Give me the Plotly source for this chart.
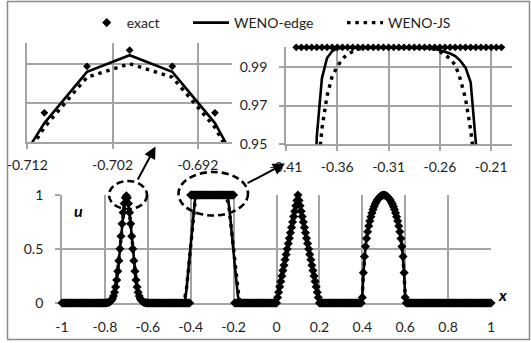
import numpy as np
import plotly.graph_objects as go

# ---------------- data (x grid step 0.005 on [-1, 1]) ----------------
x_vals = [
 -1.0, -0.995, -0.99, -0.985, -0.98, -0.975, -0.97, -0.965, -0.96, -0.955, -0.95, -0.945, -0.94, -0.935, -0.93, -0.925, -0.92, -0.915, -0.91, -0.905,
 -0.9, -0.895, -0.89, -0.885, -0.88, -0.875, -0.87, -0.865, -0.86, -0.855, -0.85, -0.845, -0.84, -0.835, -0.83, -0.825, -0.82, -0.815, -0.81, -0.805,
 -0.8, -0.795, -0.79, -0.785, -0.78, -0.775, -0.77, -0.765, -0.76, -0.755, -0.75, -0.745, -0.74, -0.735, -0.73, -0.725, -0.72, -0.715, -0.71, -0.705,
 -0.7, -0.695, -0.69, -0.685, -0.68, -0.675, -0.67, -0.665, -0.66, -0.655, -0.65, -0.645, -0.64, -0.635, -0.63, -0.625, -0.62, -0.615, -0.61, -0.605,
 -0.6, -0.595, -0.59, -0.585, -0.58, -0.575, -0.57, -0.565, -0.56, -0.555, -0.55, -0.545, -0.54, -0.535, -0.53, -0.525, -0.52, -0.515, -0.51, -0.505,
 -0.5, -0.495, -0.49, -0.485, -0.48, -0.475, -0.47, -0.465, -0.46, -0.455, -0.45, -0.445, -0.44, -0.435, -0.43, -0.425, -0.42, -0.415, -0.41, -0.405,
 -0.4, -0.395, -0.39, -0.385, -0.38, -0.375, -0.37, -0.365, -0.36, -0.355, -0.35, -0.345, -0.34, -0.335, -0.33, -0.325, -0.32, -0.315, -0.31, -0.305,
 -0.3, -0.295, -0.29, -0.285, -0.28, -0.275, -0.27, -0.265, -0.26, -0.255, -0.25, -0.245, -0.24, -0.235, -0.23, -0.225, -0.22, -0.215, -0.21, -0.205,
 -0.2, -0.195, -0.19, -0.185, -0.18, -0.175, -0.17, -0.165, -0.16, -0.155, -0.15, -0.145, -0.14, -0.135, -0.13, -0.125, -0.12, -0.115, -0.11, -0.105,
 -0.1, -0.095, -0.09, -0.085, -0.08, -0.075, -0.07, -0.065, -0.06, -0.055, -0.05, -0.045, -0.04, -0.035, -0.03, -0.025, -0.02, -0.015, -0.01, -0.005,
 0.0, 0.005, 0.01, 0.015, 0.02, 0.025, 0.03, 0.035, 0.04, 0.045, 0.05, 0.055, 0.06, 0.065, 0.07, 0.075, 0.08, 0.085, 0.09, 0.095,
 0.1, 0.105, 0.11, 0.115, 0.12, 0.125, 0.13, 0.135, 0.14, 0.145, 0.15, 0.155, 0.16, 0.165, 0.17, 0.175, 0.18, 0.185, 0.19, 0.195,
 0.2, 0.205, 0.21, 0.215, 0.22, 0.225, 0.23, 0.235, 0.24, 0.245, 0.25, 0.255, 0.26, 0.265, 0.27, 0.275, 0.28, 0.285, 0.29, 0.295,
 0.3, 0.305, 0.31, 0.315, 0.32, 0.325, 0.33, 0.335, 0.34, 0.345, 0.35, 0.355, 0.36, 0.365, 0.37, 0.375, 0.38, 0.385, 0.39, 0.395,
 0.4, 0.405, 0.41, 0.415, 0.42, 0.425, 0.43, 0.435, 0.44, 0.445, 0.45, 0.455, 0.46, 0.465, 0.47, 0.475, 0.48, 0.485, 0.49, 0.495,
 0.5, 0.505, 0.51, 0.515, 0.52, 0.525, 0.53, 0.535, 0.54, 0.545, 0.55, 0.555, 0.56, 0.565, 0.57, 0.575, 0.58, 0.585, 0.59, 0.595,
 0.6, 0.605, 0.61, 0.615, 0.62, 0.625, 0.63, 0.635, 0.64, 0.645, 0.65, 0.655, 0.66, 0.665, 0.67, 0.675, 0.68, 0.685, 0.69, 0.695,
 0.7, 0.705, 0.71, 0.715, 0.72, 0.725, 0.73, 0.735, 0.74, 0.745, 0.75, 0.755, 0.76, 0.765, 0.77, 0.775, 0.78, 0.785, 0.79, 0.795,
 0.8, 0.805, 0.81, 0.815, 0.82, 0.825, 0.83, 0.835, 0.84, 0.845, 0.85, 0.855, 0.86, 0.865, 0.87, 0.875, 0.88, 0.885, 0.89, 0.895,
 0.9, 0.905, 0.91, 0.915, 0.92, 0.925, 0.93, 0.935, 0.94, 0.945, 0.95, 0.955, 0.96, 0.965, 0.97, 0.975, 0.98, 0.985, 0.99, 0.995,
 1.0,
]

u_exact = [
 0,0,0,0,0,0,0,0,0,0,0,0,0,0,0,0,0,0,0,0,
 0,0,0,0,0,0,0,0,0,0,0,0,0,0,0,0,0,0,0,0,
 0.0005, 0.00104, 0.0021, 0.00409, 0.00765, 0.01379, 0.02394, 0.03999, 0.06432, 0.09961, 0.14847, 0.21305, 0.29434, 0.39147, 0.50121, 0.61777, 0.73305, 0.83739, 0.92089, 0.97493,
 0.99364, 0.97493, 0.92089, 0.83739, 0.73305, 0.61777, 0.50121, 0.39147, 0.29434, 0.21305, 0.14847, 0.09961, 0.06432, 0.03999, 0.02394, 0.01379, 0.00765, 0.00409, 0.0021, 0.00104,
 0.0005, 0,0,0,0,0,0,0,0,0,0,0,0,0,0,0,0,0,0,0,
 0,0,0,0,0,0,0,0,0,0,0,0,0,0,0,0,0,0,0,0,
 1,1,1,1,1,1,1,1,1,1,1,1,1,1,1,1,1,1,1,1,
 1,1,1,1,1,1,1,1,1,1,1,1,1,1,1,1,1,1,1,1,
 1, 0,0,0,0,0,0,0,0,0,0,0,0,0,0,0,0,0,0,0,
 0,0,0,0,0,0,0,0,0,0,0,0,0,0,0,0,0,0,0,0,
 0, 0.05, 0.1, 0.15, 0.2, 0.25, 0.3, 0.35, 0.4, 0.45, 0.5, 0.55, 0.6, 0.65, 0.7, 0.75, 0.8, 0.85, 0.9, 0.95,
 1, 0.95, 0.9, 0.85, 0.8, 0.75, 0.7, 0.65, 0.6, 0.55, 0.5, 0.45, 0.4, 0.35, 0.3, 0.25, 0.2, 0.15, 0.1, 0.05,
 0,0,0,0,0,0,0,0,0,0,0,0,0,0,0,0,0,0,0,0,
 0,0,0,0,0,0,0,0,0,0,0,0,0,0,0,0,0,0,0,0,
 0.05204, 0.28082, 0.43043, 0.52384, 0.59804, 0.65998, 0.71299, 0.75898, 0.79918, 0.83445, 0.86539, 0.89245, 0.91598, 0.93624, 0.95346, 0.96779, 0.97936, 0.98826, 0.99457, 0.99833,
 0.99958, 0.99833, 0.99457, 0.98826, 0.97936, 0.96779, 0.95346, 0.93624, 0.91598, 0.89245, 0.86539, 0.83445, 0.79918, 0.75898, 0.71299, 0.65998, 0.59804, 0.52384, 0.43043, 0.28082,
 0.05204, 0,0,0,0,0,0,0,0,0,0,0,0,0,0,0,0,0,0,0,
 0,0,0,0,0,0,0,0,0,0,0,0,0,0,0,0,0,0,0,0,
 0,0,0,0,0,0,0,0,0,0,0,0,0,0,0,0,0,0,0,0,
 0,0,0,0,0,0,0,0,0,0,0,0,0,0,0,0,0,0,0,0,
 0,
]

u_weno_edge = [
 0,0,0,0,0,0,0,0,0,0,0,0,0,0,0,0,0,0,0,0,
 0,0,0,0,0,0,0,0,0,0,0,0,0,0,0,0,0,0,0, 0.0003,
 0.0006, 0.0011, 0.0022, 0.0043, 0.008, 0.0145, 0.025, 0.041, 0.066, 0.101, 0.15, 0.214, 0.295, 0.391, 0.499, 0.614, 0.728, 0.83, 0.909, 0.9685,
 0.9878, 0.9685, 0.909, 0.83, 0.728, 0.614, 0.499, 0.391, 0.295, 0.214, 0.15, 0.101, 0.066, 0.041, 0.025, 0.0145, 0.008, 0.0043, 0.0022, 0.0011,
 0.0006, 0.0003, 0,0,0,0,0,0,0,0,0,0,0,0,0,0,0,0,0,0,
 0,0,0,0,0,0,0,0,0,0,0,0,0, 0.002, 0.008, 0.04, 0.12, 0.23, 0.34, 0.45,
 0.56, 0.67, 0.77, 0.87, 0.954, 0.984, 0.9945, 0.998, 0.9994, 0.9998, 1,1,1,1,1,1,1,1,1,1,
 1,1,1,1,1,1, 0.9997, 0.9992, 0.9985, 0.9978, 0.9968, 0.9955, 0.993, 0.9895, 0.982, 0.951, 0.88, 0.79, 0.69, 0.58,
 0.47, 0.36, 0.25, 0.15, 0.07, 0.02, 0.004, 0,0,0,0,0,0,0,0,0,0,0,0,0,
 0,0,0,0,0,0,0,0,0,0,0,0,0,0,0,0,0,0,0, 0.001,
 0.008, 0.052, 0.1, 0.15, 0.2, 0.25, 0.3, 0.35, 0.4, 0.45, 0.5, 0.55, 0.6, 0.65, 0.7, 0.75, 0.8, 0.85, 0.899, 0.948,
 0.985, 0.948, 0.899, 0.85, 0.8, 0.75, 0.7, 0.65, 0.6, 0.55, 0.5, 0.45, 0.4, 0.35, 0.3, 0.25, 0.2, 0.15, 0.1, 0.052,
 0.008, 0.001, 0,0,0,0,0,0,0,0,0,0,0,0,0,0,0,0,0,0,
 0,0,0,0,0,0,0,0,0,0,0,0,0,0,0,0,0,0, 0.002, 0.012,
 0.06, 0.27, 0.425, 0.521, 0.596, 0.659, 0.712, 0.758, 0.799, 0.834, 0.865, 0.892, 0.915, 0.936, 0.953, 0.967, 0.979, 0.988, 0.994, 0.998,
 0.9985, 0.998, 0.994, 0.988, 0.979, 0.967, 0.953, 0.936, 0.915, 0.892, 0.865, 0.834, 0.799, 0.758, 0.712, 0.659, 0.596, 0.521, 0.425, 0.27,
 0.06, 0.012, 0.002, 0,0,0,0,0,0,0,0,0,0,0,0,0,0,0,0,0,
 0,0,0,0,0,0,0,0,0,0,0,0,0,0,0,0,0,0,0,0,
 0,0,0,0,0,0,0,0,0,0,0,0,0,0,0,0,0,0,0,0,
 0,0,0,0,0,0,0,0,0,0,0,0,0,0,0,0,0,0,0,0,
 0,
]

u_weno_js = [
 0,0,0,0,0,0,0,0,0,0,0,0,0,0,0,0,0,0,0,0,
 0,0,0,0,0,0,0,0,0,0,0,0,0,0,0,0,0,0,0, 0.0003,
 0.0006, 0.0012, 0.0024, 0.0046, 0.0085, 0.015, 0.026, 0.042, 0.067, 0.102, 0.151, 0.215, 0.296, 0.392, 0.499, 0.613, 0.726, 0.826, 0.904, 0.9623,
 0.978, 0.9623, 0.904, 0.826, 0.726, 0.613, 0.499, 0.392, 0.296, 0.215, 0.151, 0.102, 0.067, 0.042, 0.026, 0.015, 0.0085, 0.0046, 0.0024, 0.0012,
 0.0006, 0.0003, 0,0,0,0,0,0,0,0,0,0,0,0,0,0,0,0,0,0,
 0,0,0,0,0,0,0,0,0,0,0,0, 0.002, 0.006, 0.02, 0.06, 0.13, 0.22, 0.32, 0.43,
 0.54, 0.65, 0.76, 0.86, 0.93, 0.958, 0.975, 0.985, 0.99, 0.994, 0.9965, 0.998, 0.999, 0.9995, 0.9998, 1,1,1,1,1,
 1,1,1,1,1, 0.9998, 0.9995, 0.999, 0.9978, 0.9962, 0.994, 0.9909, 0.9835, 0.9735, 0.9575, 0.93, 0.86, 0.77, 0.67, 0.57,
 0.46, 0.36, 0.26, 0.17, 0.1, 0.05, 0.02, 0.006, 0.002, 0,0,0,0,0,0,0,0,0,0,0,
 0,0,0,0,0,0,0,0,0,0,0,0,0,0,0,0,0,0, 0.0005, 0.002,
 0.01, 0.054, 0.1, 0.15, 0.2, 0.25, 0.3, 0.35, 0.4, 0.45, 0.5, 0.55, 0.6, 0.65, 0.7, 0.75, 0.8, 0.849, 0.897, 0.945,
 0.975, 0.945, 0.897, 0.849, 0.8, 0.75, 0.7, 0.65, 0.6, 0.55, 0.5, 0.45, 0.4, 0.35, 0.3, 0.25, 0.2, 0.15, 0.1, 0.054,
 0.01, 0.002, 0.0005, 0,0,0,0,0,0,0,0,0,0,0,0,0,0,0,0,0,
 0,0,0,0,0,0,0,0,0,0,0,0,0,0,0,0,0, 0.001, 0.004, 0.018,
 0.065, 0.265, 0.42, 0.518, 0.594, 0.658, 0.711, 0.757, 0.798, 0.833, 0.864, 0.891, 0.914, 0.935, 0.952, 0.966, 0.978, 0.987, 0.993, 0.997,
 0.998, 0.997, 0.993, 0.987, 0.978, 0.966, 0.952, 0.935, 0.914, 0.891, 0.864, 0.833, 0.798, 0.757, 0.711, 0.658, 0.594, 0.518, 0.42, 0.265,
 0.065, 0.018, 0.004, 0.001, 0,0,0,0,0,0,0,0,0,0,0,0,0,0,0,0,
 0,0,0,0,0,0,0,0,0,0,0,0,0,0,0,0,0,0,0,0,
 0,0,0,0,0,0,0,0,0,0,0,0,0,0,0,0,0,0,0,0,
 0,0,0,0,0,0,0,0,0,0,0,0,0,0,0,0,0,0,0,0,
 0,
]

assert len(x_vals) == len(u_exact) == len(u_weno_edge) == len(u_weno_js) == 401

# tick values / labels
main_xticks = [-1, -0.8, -0.6, -0.4, -0.2, 0, 0.2, 0.4, 0.6, 0.8, 1]
main_xlabels = ["-1", "-0.8", "-0.6", "-0.4", "-0.2", "0", "0.2", "0.4", "0.6", "0.8", "1"]
main_yticks = [0, 0.5, 1]
main_ylabels = ["0", "0.5", "1"]
in1_xticks = [-0.712, -0.702, -0.692]
in1_xlabels = ["-0.712", "-0.702", "-0.692"]
in1_yticks = [0.9326, 0.9776]
in2_xticks = [-0.41, -0.36, -0.31, -0.26, -0.21]
in2_xlabels = ["-0.41", "-0.36", "-0.31", "-0.26", "-0.21"]
in2_yticks = [0.95, 0.97, 0.99]
in2_ylabels = ["0.95", "0.97", "0.99"]

# ---------------- layout helpers ----------------
W, H = 531, 343
def px(v):
    return v / W
def py(v):
    return 1 - v / H

GRID = "#a3a3a3"
TXT = "#1e1e1e"
FONT = "Lato"
FS = 14
EPS = 1e-6
MAIN_X = [-1 - EPS, 1 + EPS]
MAIN_Y = [0 - EPS, 1 + EPS]
IN1_X = [-0.712, -0.688]
IN1_Y = [0.887, 1.002]
IN2_X = [-0.41, -0.19]
IN2_Y = [0.95 - EPS, 1.0 + EPS]

X = np.array(x_vals, dtype=float)
UE = np.array(u_exact, dtype=float)
UW = np.array(u_weno_edge, dtype=float)
UJ = np.array(u_weno_js, dtype=float)

def inside(xr, yr):
    return (X >= xr[0]) & (X <= xr[1]) & (UE >= yr[0]) & (UE <= yr[1])

mk_main = dict(symbol="diamond", size=7, color="black", line=dict(width=0))
mk = dict(symbol="diamond", size=6, color="black", line=dict(width=0))
edge_line = dict(color="black", width=2.6)
js_line = dict(color="black", width=3.4, dash="3.5px,4.8px")

fig = go.Figure()

# main chart
fig.add_trace(go.Scatter(x=X, y=UE, mode="markers", marker=mk_main, name="exact",
                         cliponaxis=False, legend="legend", xaxis="x", yaxis="y"))
fig.add_trace(go.Scatter(x=X, y=UW, mode="lines", line=edge_line, name="WENO-edge",
                         cliponaxis=False, legend="legend2", xaxis="x", yaxis="y"))
fig.add_trace(go.Scatter(x=X, y=UJ, mode="lines", line=js_line, name="WENO-JS",
                         cliponaxis=False, legend="legend3", xaxis="x", yaxis="y"))

# inset 1 (Gaussian peak)
m1 = inside(IN1_X, IN1_Y)
fig.add_trace(go.Scatter(x=X[m1], y=UE[m1], mode="markers", marker=mk, showlegend=False,
                         cliponaxis=False, xaxis="x2", yaxis="y2"))
fig.add_trace(go.Scatter(x=X, y=UW, mode="lines", line=edge_line, showlegend=False,
                         xaxis="x2", yaxis="y2"))
fig.add_trace(go.Scatter(x=X, y=UJ, mode="lines", line=js_line, showlegend=False,
                         xaxis="x2", yaxis="y2"))

# inset 2 (square top)
m2 = inside(IN2_X, IN2_Y)
fig.add_trace(go.Scatter(x=X[m2], y=UE[m2], mode="markers", marker=mk, showlegend=False,
                         cliponaxis=False, xaxis="x3", yaxis="y3"))
fig.add_trace(go.Scatter(x=X, y=UW, mode="lines", line=edge_line, showlegend=False,
                         xaxis="x3", yaxis="y3"))
fig.add_trace(go.Scatter(x=X, y=UJ, mode="lines", line=js_line, showlegend=False,
                         xaxis="x3", yaxis="y3"))

common = dict(showgrid=True, gridcolor=GRID, gridwidth=1.8, zeroline=False,
              showline=True, linecolor=GRID, linewidth=1.8, automargin=False,
              layer="below traces",
              tickfont=dict(family=FONT, size=FS, color=TXT), fixedrange=True)

leg = dict(y=py(23), xanchor="left", yanchor="middle", orientation="h",
           bgcolor="rgba(0,0,0,0)", borderwidth=0,
           font=dict(family=FONT, size=FS, color=TXT))

fig.update_layout(
    template="none",
    width=W, height=H,
    margin=dict(l=0, r=0, t=0, b=0, pad=0, autoexpand=False),
    paper_bgcolor="white", plot_bgcolor="white",
    font=dict(family=FONT, size=FS, color=TXT),
    xaxis=dict(domain=[px(62), px(491)], range=MAIN_X, anchor="y",
               tickmode="array", tickvals=main_xticks, ticktext=main_xlabels,
               ticks="", ticklabelstandoff=10, **common),
    yaxis=dict(domain=[py(303), py(195)], range=MAIN_Y, anchor="x",
               tickmode="array", tickvals=main_yticks, ticktext=main_ylabels,
               ticks="outside", ticklen=5, tickcolor=GRID, tickwidth=1.8,
               ticklabelstandoff=9, **common),
    xaxis2=dict(domain=[px(27.3), px(232)], range=IN1_X, anchor="y2",
                tickmode="array", tickvals=in1_xticks, ticktext=in1_xlabels,
                ticks="outside", ticklen=5, tickcolor=GRID, tickwidth=1.8,
                ticklabelstandoff=4, **common),
    yaxis2=dict(domain=[py(142), py(43)], range=IN1_Y, anchor="x2",
                tickmode="array", tickvals=in1_yticks, showticklabels=False,
                ticks="", **common),
    xaxis3=dict(domain=[px(286), px(511.7)], range=IN2_X, anchor="y3",
                tickmode="array", tickvals=in2_xticks, ticktext=in2_xlabels,
                ticks="outside", ticklen=5, tickcolor=GRID, tickwidth=1.8,
                ticklabelstandoff=4, **common),
    yaxis3=dict(domain=[py(144.3), py(47.3)], range=IN2_Y, anchor="x3",
                tickmode="array", tickvals=in2_yticks, ticktext=in2_ylabels,
                ticks="outside", ticklen=5, tickcolor=GRID, tickwidth=1.8,
                ticklabelstandoff=9, **common),
    legend=dict(x=px(86.7), **leg),
    legend2=dict(x=px(188), itemwidth=36, **leg),
    legend3=dict(x=px(342), itemwidth=36, **leg),
)

shapes = [
    # outer frame
    dict(type="rect", xref="paper", yref="paper", x0=px(7.5), x1=px(529.5), y0=py(339.5), y1=py(1.5),
         line=dict(color="#8a8a8a", width=1.5), fillcolor="rgba(0,0,0,0)", layer="above"),
    # dashed ellipses
    dict(type="circle", xref="paper", yref="paper", x0=px(109), x1=px(147), y0=py(209), y1=py(181),
         line=dict(color="black", width=2.6, dash="7px,4px"), layer="above"),
    dict(type="circle", xref="paper", yref="paper", x0=px(178.5), x1=px(248), y0=py(215.5), y1=py(172),
         line=dict(color="black", width=2.6, dash="7px,4px"), layer="above"),
]
fig.update_layout(shapes=shapes)

annotations = [
    dict(x=px(155.5), y=py(146.5), xref="paper", yref="paper", text="", showarrow=True,
         ax=137 - 155.5, ay=181 - 146.5, arrowhead=2, arrowsize=1.2, arrowwidth=2, arrowcolor="black",
         standoff=0, startstandoff=0),
    dict(x=px(285), y=py(163.5), xref="paper", yref="paper", text="", showarrow=True,
         ax=246 - 285, ay=184 - 163.5, arrowhead=2, arrowsize=1.2, arrowwidth=2, arrowcolor="black",
         standoff=0, startstandoff=0),
    dict(x=px(71.7), y=py(210), xref="paper", yref="paper", text="<b><i>u</i></b>", showarrow=False,
         font=dict(family=FONT, size=16, color="black")),
    dict(x=px(509.3), y=py(305.7), xref="paper", yref="paper", text="<b><i>x</i></b>", showarrow=False,
         font=dict(family=FONT, size=16, color="black")),
]
fig.update_layout(annotations=annotations)

fig.write_html("out.html", config={"displayModeBar": False},
               post_script="document.body.style.margin='0px';")
